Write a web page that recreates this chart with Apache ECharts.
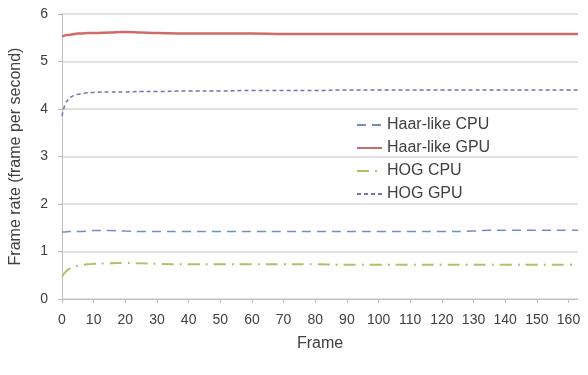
<!DOCTYPE html>
<html><head><meta charset="utf-8">
<script src="https://cdn.jsdelivr.net/npm/echarts@6/dist/echarts.min.js"></script>
<style>html,body{margin:0;padding:0;background:#fff}#c{width:588px;height:375px}</style>
</head><body><div id="c"></div>
<script>
var frames   = [0,1,2,3,4,5,6,8,10,15,20,25,30,40,50,60,70,80,90,100,110,120,130,135,140,150,160,163];
var haarCPU  = [1.41,1.41,1.42,1.42,1.42,1.42,1.42,1.43,1.44,1.44,1.43,1.42,1.42,1.42,1.42,1.42,1.42,1.42,1.42,1.42,1.42,1.42,1.43,1.45,1.45,1.45,1.45,1.45];
var haarGPU  = [5.53,5.55,5.56,5.57,5.58,5.59,5.59,5.60,5.60,5.61,5.62,5.61,5.60,5.59,5.59,5.59,5.58,5.58,5.58,5.58,5.58,5.58,5.58,5.58,5.58,5.58,5.58,5.58];
var hogCPU   = [0.47,0.56,0.62,0.66,0.68,0.70,0.71,0.73,0.74,0.75,0.76,0.75,0.74,0.73,0.73,0.73,0.73,0.73,0.72,0.72,0.72,0.72,0.72,0.72,0.72,0.72,0.72,0.72];
var hogGPU   = [3.85,4.10,4.20,4.26,4.29,4.31,4.32,4.34,4.35,4.36,4.36,4.37,4.37,4.38,4.38,4.39,4.39,4.39,4.40,4.40,4.40,4.40,4.40,4.40,4.40,4.40,4.40,4.40];
var seriesNames = ['Haar-like CPU','Haar-like GPU','HOG CPU','HOG GPU'];
var yTicks = [0,1,2,3,4,5,6];

function pairs(v){return frames.map(function(f,i){return [f,v[i]];});}
var chart = echarts.init(document.getElementById('c'));
var txt = '#404040', font = 'Liberation Sans';
chart.setOption({
  animation:false,
  textStyle:{fontFamily:font},
  grid:{left:61,right:10,top:14,bottom:76},
  legend:{orient:'vertical',left:351,top:112,itemGap:7,itemWidth:25,itemHeight:16,
    itemStyle:{opacity:0},
    textStyle:{fontSize:16,color:txt,fontFamily:font},data:seriesNames},
  xAxis:{type:'value',min:0,max:163,interval:10,name:'Frame',nameLocation:'middle',nameGap:37,
    nameTextStyle:{fontSize:16,color:txt},
    axisLine:{lineStyle:{color:'#bfbfbf'}},axisTick:{show:true,length:4,lineStyle:{color:'#bfbfbf'}},
    axisLabel:{fontSize:14,color:txt,margin:14,showMaxLabel:false},splitLine:{show:false}},
  yAxis:{type:'value',min:0,max:6,interval:1,name:'Frame rate (frame per second)',nameLocation:'middle',nameGap:38,
    nameTextStyle:{fontSize:16,color:txt},
    axisLine:{show:true,lineStyle:{color:'#bfbfbf'}},axisTick:{show:true,length:4,lineStyle:{color:'#bfbfbf'}},
    axisLabel:{fontSize:14,color:txt,margin:14,formatter:function(v){return yTicks.indexOf(v)>=0?String(v):'';}},
    splitLine:{lineStyle:{color:'#d9d9d9',width:1.5}}},
  series:[
    {name:seriesNames[0],type:'line',data:pairs(haarCPU),symbol:'none',smooth:true,
      lineStyle:{color:'#6f8fc8',width:1.5,type:[9,6]},itemStyle:{color:'#6f8fc8'}},
    {name:seriesNames[1],type:'line',data:pairs(haarGPU),symbol:'none',smooth:true,
      lineStyle:{color:'#cf6b68',width:2.5,type:'solid'},itemStyle:{color:'#cf6b68'}},
    {name:seriesNames[2],type:'line',data:pairs(hogCPU),symbol:'none',smooth:true,
      lineStyle:{color:'#a9c46a',width:2,type:[12,6,2,6]},itemStyle:{color:'#a9c46a'}},
    {name:seriesNames[3],type:'line',data:pairs(hogGPU),symbol:'none',smooth:true,
      lineStyle:{color:'#7a6fb0',width:1.5,type:[4,3]},itemStyle:{color:'#7a6fb0'}}
  ]
});
</script></body></html>
